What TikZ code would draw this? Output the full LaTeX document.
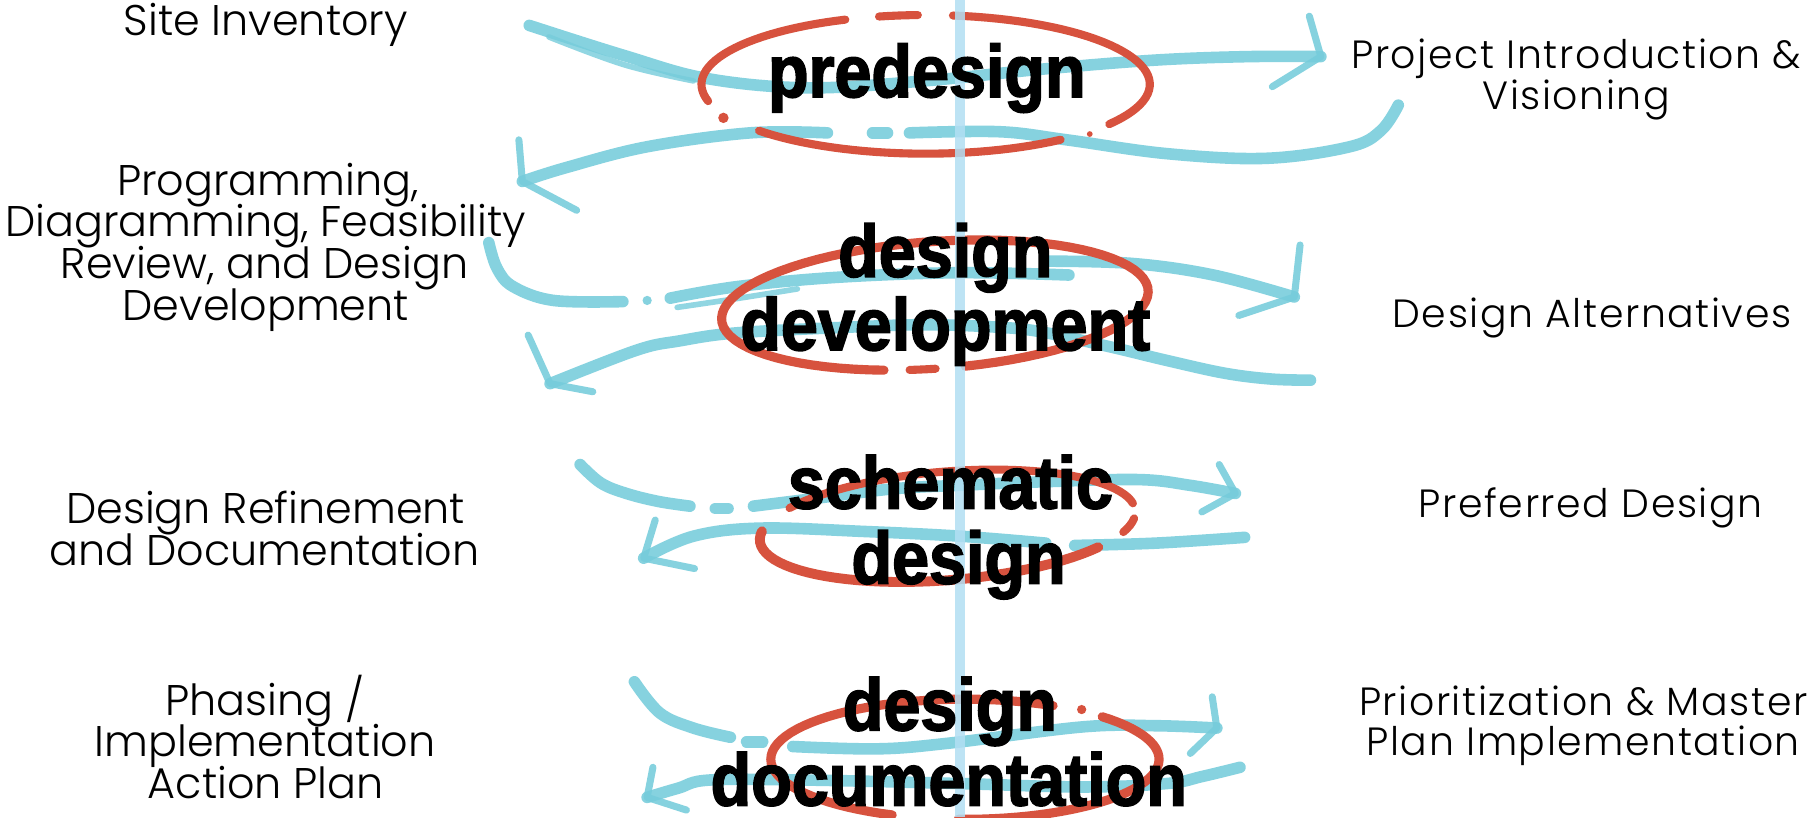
\documentclass[tikz,border=0pt]{standalone}
\usepackage{fontspec}
\setmainfont{Poppins}[UprightFont=* Light]
\newfontfamily\rlabf{Poppins}[UprightFont=* Light, LetterSpace=4]
\newfontfamily\bigf{Liberation Sans}[FakeStretch=0.9, FakeBold=2.2]
\definecolor{bl}{RGB}{118,204,219}
\definecolor{rdc}{RGB}{215,82,62}
\definecolor{vl}{RGB}{178,223,243}
\tikzset{
  blu/.style={draw=bl, line width=3.3pt, line cap=round, line join=round, opacity=.88},
  bluhead/.style={draw=bl, line width=2pt, line cap=round, line join=round, opacity=.88},
  bluthin/.style={draw=bl, line width=1.6pt, line cap=round, opacity=.8},
  rd/.style={draw=rdc, line width=2.3pt, line cap=round},
  lab/.style={font=\fontsize{12.2}{14}\selectfont, anchor=base, inner sep=0pt},
  rlab/.style={font=\rlabf\fontsize{11.2}{13}\selectfont, anchor=base, inner sep=0pt},
  ctr/.style={font={\bigf\bfseries\fontsize{21}{21}\selectfont}, anchor=base, inner sep=0pt},
  vline/.style={draw=vl, line width=2.9pt, opacity=.85}
}
\begin{document}
\begin{tikzpicture}[x=0.011556cm, y=-0.011556cm]
\useasboundingbox (0,0) rectangle (1568,707);
\fill[white] (0,0) rectangle (1568,707);

% ---------- blue strokes ----------
% group 1
\draw[blu] plot[smooth, tension=.6] coordinates {(458,22) (540,48) (612,68) (700,76) (800,70) (900,60) (1000,52) (1080,49) (1143,49)};
\draw[bluthin] plot[smooth, tension=.6] coordinates {(475,32) (540,56) (600,70)};
\draw[bluhead] (1133,14) -- (1143,49) -- (1101,75);
\draw[blu] plot[smooth, tension=.6] coordinates {(1210,91) (1195,113) (1168,127) (1096,137) (1010,133) (923,121) (865,114) (787,115)};
\draw[blu] (755,115) -- (768,115);
\draw[blu] plot[smooth, tension=.6] coordinates {(716,115) (649,115) (560,127) (490,145) (452,157)};
\draw[bluhead] (449,121) -- (452,157) -- (499,182);
% group 2
\draw[blu] plot[smooth, tension=.6] coordinates {(423,210) (430,232) (444,248) (479,260) (539,261)};
\fill[bl, opacity=.88] (560,260) circle[radius=4];
\draw[blu] plot[smooth, tension=.6] coordinates {(580,258) (638,248) (724,240) (830,236) (925,238)};
\draw[bluthin] plot[smooth, tension=.6] coordinates {(586,266) (640,258) (690,250)};
\draw[blu] plot[smooth, tension=.6] coordinates {(905,226) (980,228) (1050,238) (1120,257)};
\draw[bluhead] (1125,212) -- (1120,257) -- (1072,273);
\draw[blu] plot[smooth, tension=.6] coordinates {(1134,329) (1100,328) (1060,323) (1010,312) (960,300) (900,287) (861,283) (800,281) (737,283) (638,288) (588,295) (551,303) (476,332)};
\draw[bluhead] (457,290) -- (476,332) -- (513,339);
% group 3
\draw[blu] plot[smooth, tension=.6] coordinates {(502,402) (520,418) (542,427) (570,434) (597,438)};
\draw[blu] (619,440) -- (630,440);
\draw[blu] plot[smooth, tension=.6] coordinates {(652,438) (700,432) (773,423) (830,420) (900,417) (985,415) (1030,420) (1069,427)};
\draw[bluhead] (1055,402) -- (1069,427) -- (1040,443);
\draw[blu] plot[smooth, tension=.6] coordinates {(1077,465) (1000,470) (930,472)};
\draw[blu] plot[smooth, tension=.6] coordinates {(905,470) (831,464) (750,460) (658,457) (600,464) (557,483)};
\draw[bluhead] (567,450) -- (557,483) -- (601,492);
% group 4
\draw[blu] plot[smooth, tension=.6] coordinates {(549,590) (571,617) (600,630) (632,638)};
\draw[blu] (646,642) -- (660,642);
\draw[blu] plot[smooth, tension=.6] coordinates {(686,646) (760,648) (822,643) (937,629) (1000,628) (1053,630)};
\draw[bluhead] (1049,603) -- (1053,630) -- (1030,652);
\draw[blu] plot[smooth, tension=.6] coordinates {(1073,664) (1040,672) (1010,678) (937,681) (829,678) (697,675) (614,675) (587,682) (560,690)};
\draw[bluhead] (565,664) -- (560,690) -- (594,701);

% ---------- red ellipses ----------
\begin{scope}[shift={(801,73)}]
  \draw[rd] plot[domain=166:249, samples=30, variable=\t] ({194*cos(\t)},{60*sin(\t)});
  \draw[rd] plot[domain=258:268, samples=5, variable=\t] ({194*cos(\t)},{60*sin(\t)});
  \draw[rd] plot[domain=277:395, samples=40, variable=\t] ({194*cos(\t)},{60*sin(\t)});
  \draw[rd] plot[domain=53:138, samples=30, variable=\t] ({194*cos(\t)},{60*sin(\t)});
\end{scope}
\fill[rdc] (626,102) circle[radius=4.5];
\fill[rdc] (943,116) circle[radius=2.5];

\begin{scope}[shift={(809,264)}, rotate=4]
  \draw[rd, line width=2.6pt] plot[domain=-255:83, samples=80, variable=\t] ({185*cos(\t)},{55*sin(\t)});
  \draw[rd] plot[domain=91:98, samples=4, variable=\t] ({185*cos(\t)},{55*sin(\t)});
\end{scope}

\begin{scope}[shift={(820,455)}, rotate=4.6]
  \draw[rd, line width=2.8pt] plot[domain=38:190, samples=40, variable=\t] ({163*cos(\t)},{47*sin(\t)});
  \draw[rd] plot[domain=8:22, samples=5, variable=\t] ({163*cos(\t)},{47*sin(\t)});
  \draw[rd] plot[domain=214:352, samples=40, variable=\t] ({163*cos(\t)},{47*sin(\t)});
\end{scope}

\begin{scope}[shift={(835,657)}]
  \draw[rd, line width=2.6pt] plot[domain=112:297, samples=50, variable=\t] ({168*cos(\t)},{52*sin(\t)});
  \draw[rd, line width=2.6pt] plot[domain=315:452, samples=40, variable=\t] ({168*cos(\t)},{52*sin(\t)});
\end{scope}
\fill[rdc] (936,614) circle[radius=4];

% ---------- vertical line ----------
\coordinate (vtop) at (830.8,0);
\coordinate (vbot) at (830.8,707);
\draw[vline] (vtop) -- (vbot);

% ---------- centre labels ----------
\node[ctr] (pre) at (802,84) {predesign};
\node[ctr] (dd1) at (818,239.5) {design};
\node[ctr] (dd2) at (818,303) {development};
\node[ctr] (sd1) at (822.5,440) {schematic};
\node[ctr] (sd2) at (829.5,505) {design};
\node[ctr] (doc1) at (822,632) {design};
\node[ctr] (doc2) at (821,697) {documentation};

% ---------- left labels ----------
\node[lab] (l1) at (230,31) {Site Inventory};
\node[lab] (l2a) at (232,169) {Programming,};
\node[lab] (l2b) at (230,205) {Diagramming, Feasibility};
\node[lab] (l2c) at (229,241) {Review, and Design};
\node[lab] (l2d) at (230,277) {Development};
\node[lab] (l3a) at (230,453) {Design Refinement};
\node[lab] (l3b) at (229,489) {and Documentation};
\node[lab] (l4a) at (229,619) {Phasing /};
\node[lab] (l4b) at (229.5,655) {Implementation};
\node[lab] (l4c) at (230,691) {Action Plan};

% ---------- right labels ----------
\node[rlab] (r1a) at (1364,59) {Project Introduction \&};
\node[rlab] (r1b) at (1364,95) {Visioning};
\node[rlab] (r2) at (1377.5,283) {Design Alternatives};
\node[rlab] (r3) at (1376.5,448) {Preferred Design};
\node[rlab] (r4a) at (1370,619) {Prioritization \& Master};
\node[rlab] (r4b) at (1370,654) {Plan Implementation};
\end{tikzpicture}
\end{document}
